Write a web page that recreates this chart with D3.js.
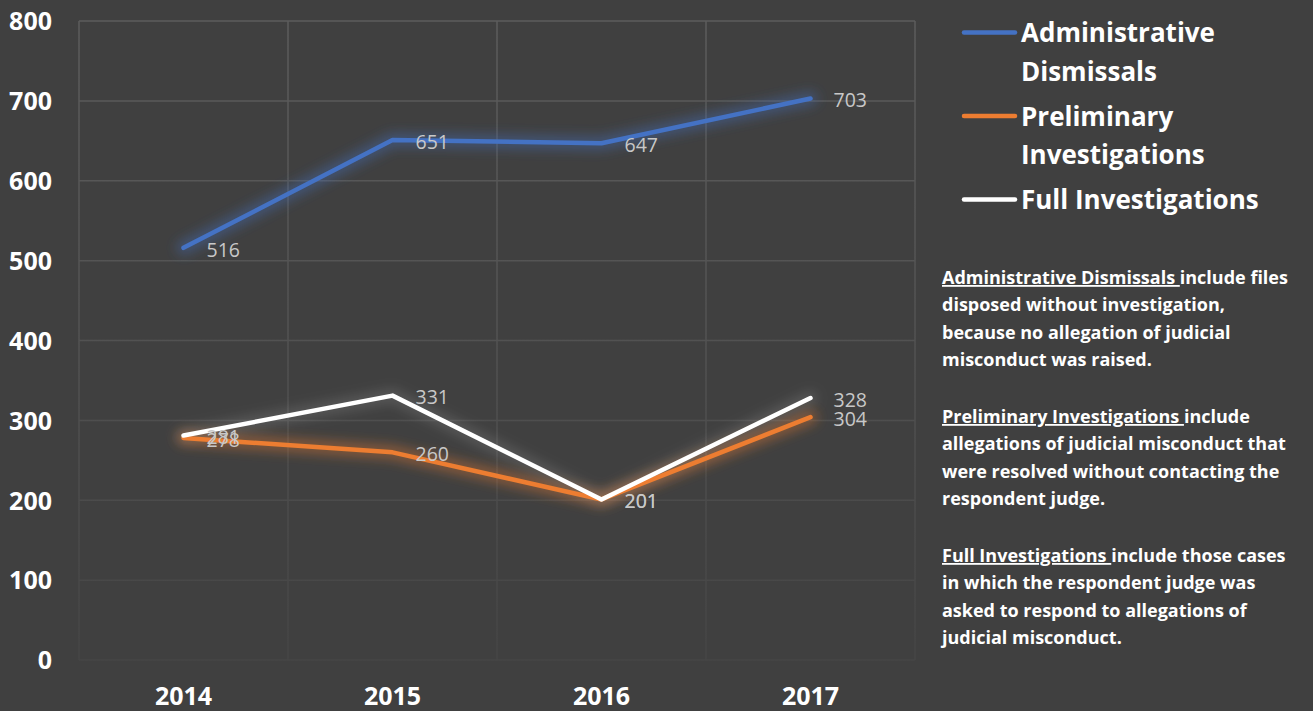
<!DOCTYPE html>
<html>
<head>
<meta charset="utf-8">
<script src="https://cdn.jsdelivr.net/npm/d3@7"></script>
<style>
  html, body { margin: 0; padding: 0; background: #404040; }
  svg { display: block; font-family: "Open Sans", Lato, sans-serif; }
</style>
</head>
<body>
<svg id="chart" width="1313" height="711"></svg>
<script>
// Case dispositions per year
const years = ["2014", "2015", "2016", "2017"];
const administrativeDismissals = [516, 651, 647, 703];
const preliminaryInvestigations = [278, 260, 201, 304];
const fullInvestigations = [281, 331, 201, 328];
const yTicks = [0, 100, 200, 300, 400, 500, 600, 700, 800];

const seriesNames = ["Administrative Dismissals", "Preliminary Investigations", "Full Investigations"];
const legendLines = [["Administrative", "Dismissals"], ["Preliminary", "Investigations"], ["Full Investigations"]];
const seriesColors = ["#4472C4", "#ED7D31", "#FFFFFF"];

// Explanatory notes: underlined lead + rest of first line, then following lines
const notes = [
  { lead: "Administrative Dismissals ", first: "include files",
    rest: ["disposed without investigation,", "because no allegation of judicial", "misconduct was raised."] },
  { lead: "Preliminary Investigations ", first: "include",
    rest: ["allegations of judicial misconduct that", "were resolved without contacting the", "respondent judge."] },
  { lead: "Full Investigations ", first: "include those cases",
    rest: ["in which the respondent judge was", "asked to respond to allegations of", "judicial misconduct."] }
];

const series = [administrativeDismissals, preliminaryInvestigations, fullInvestigations].map((vals, i) => ({
  name: seriesNames[i],
  color: seriesColors[i],
  values: vals.map((v, j) => ({ year: years[j], value: v }))
}));

const svg = d3.select("#chart");
const plot = { left: 79, right: 915, top: 21, bottom: 660 };

const x = d3.scaleBand().domain(years).range([plot.left, plot.right]);
const y = d3.scaleLinear().domain([0, 800]).range([plot.bottom, plot.top]);
const cx = d => x(d) + x.bandwidth() / 2;

const defs = svg.append("defs");
const grad = defs.append("linearGradient")
  .attr("id", "gridFade").attr("gradientUnits", "userSpaceOnUse")
  .attr("x1", 0).attr("y1", plot.top).attr("x2", 0).attr("y2", plot.bottom);
grad.append("stop").attr("offset", "0").attr("stop-color", "#5c5c5c");
grad.append("stop").attr("offset", "0.5").attr("stop-color", "#525252");
grad.append("stop").attr("offset", "1").attr("stop-color", "#454545");

const glow = defs.append("filter").attr("id", "glow")
  .attr("x", "-20%").attr("y", "-50%").attr("width", "140%").attr("height", "200%");
glow.append("feGaussianBlur").attr("stdDeviation", 6);

// Grid
const grid = svg.append("g");
grid.selectAll("line.h").data(yTicks).join("line")
  .attr("class", "h")
  .attr("x1", plot.left).attr("x2", plot.right)
  .attr("y1", d => y(d)).attr("y2", d => y(d))
  .attr("stroke", "url(#gridFade)").attr("stroke-width", 1.5);
const vEdges = years.map(d => x(d)).concat([x(years[years.length - 1]) + x.bandwidth()]);
grid.selectAll("line.v").data(vEdges).join("line")
  .attr("class", "v")
  .attr("x1", d => d).attr("x2", d => d)
  .attr("y1", plot.top).attr("y2", plot.bottom)
  .attr("stroke", "url(#gridFade)").attr("stroke-width", 1.5);

// Axes (labels only)
const yAxis = svg.append("g")
  .attr("transform", `translate(${plot.left},0)`)
  .call(d3.axisLeft(y).tickValues(yTicks).tickSize(0).tickPadding(27).tickFormat(d3.format("d")));
yAxis.select(".domain").remove();
yAxis.selectAll("text")
  .attr("fill", "#ffffff").attr("font-size", 25).attr("font-weight", 700)
  .attr("font-family", "'Open Sans', sans-serif").attr("dy", "0.35em");

const xAxis = svg.append("g")
  .attr("transform", `translate(0,${plot.bottom})`)
  .call(d3.axisBottom(x).tickSize(0).tickPadding(0));
xAxis.select(".domain").remove();
xAxis.selectAll("text")
  .attr("fill", "#ffffff").attr("font-size", 25).attr("font-weight", 700)
  .attr("font-family", "'Open Sans', sans-serif").attr("y", 45).attr("dy", 0);

// Lines with soft glow
const line = d3.line().x(d => cx(d.year)).y(d => y(d.value));
const lines = svg.append("g");
series.forEach(s => {
  lines.append("path").datum(s.values)
    .attr("d", line).attr("fill", "none")
    .attr("stroke", s.color).attr("stroke-width", 14)
    .attr("stroke-opacity", s.color === "#FFFFFF" ? 0.12 : 0.4)
    .attr("stroke-linejoin", "round").attr("stroke-linecap", "round")
    .attr("filter", "url(#glow)");
});
series.forEach(s => {
  lines.append("path").datum(s.values)
    .attr("d", line).attr("fill", "none")
    .attr("stroke", s.color).attr("stroke-width", 4.5)
    .attr("stroke-linejoin", "round").attr("stroke-linecap", "round");
});

// Data labels
const labels = svg.append("g");
series.forEach(s => {
  labels.selectAll(null).data(s.values).join("text")
    .attr("x", d => cx(d.year) + 23)
    .attr("y", d => y(d.value) + 2)
    .attr("dy", "0.35em")
    .attr("fill", "#c8c8c8").attr("font-size", 19.5)
    .text(d => d.value);
});

// Legend
const legend = svg.append("g");
const legendY = [32.5, 116, 199.5];
legendLines.forEach((ls, i) => {
  legend.append("line")
    .attr("x1", 964).attr("x2", 1015)
    .attr("y1", legendY[i]).attr("y2", legendY[i])
    .attr("stroke", seriesColors[i]).attr("stroke-width", 4.5).attr("stroke-linecap", "round");
  ls.forEach((t, k) => {
    legend.append("text")
      .attr("x", 1021).attr("y", legendY[i] + 9.5 + k * 38.5)
      .attr("fill", "#ffffff").attr("font-size", 26).attr("font-weight", 700)
      .text(t);
  });
});

// Notes
const noteG = svg.append("g").attr("font-size", 18).attr("font-weight", 700).attr("fill", "#ffffff");
const noteTop = [284, 423, 562];
const lineH = 27.4;
notes.forEach((n, i) => {
  const t = noteG.append("text").attr("x", 942).attr("y", noteTop[i]).style("white-space", "pre");
  t.append("tspan").style("text-decoration", "underline").text(n.lead);
  t.append("tspan").text(n.first);
  n.rest.forEach((r, k) => {
    noteG.append("text").attr("x", 942).attr("y", noteTop[i] + (k + 1) * lineH).text(r);
  });
});
</script>
</body>
</html>
